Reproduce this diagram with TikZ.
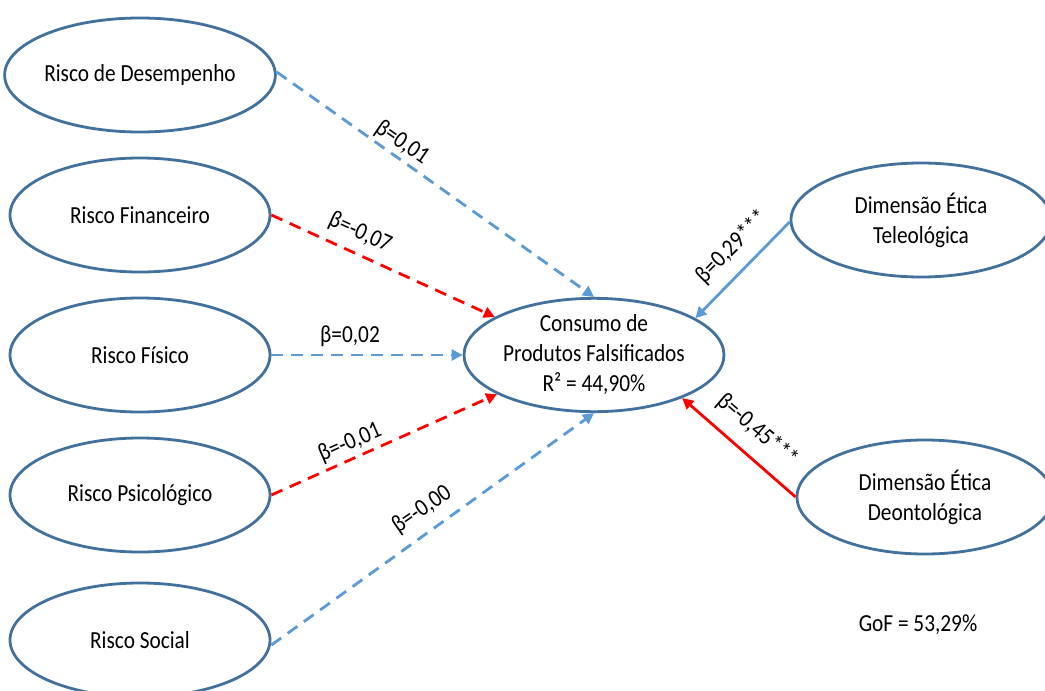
\documentclass[tikz,border=0pt]{standalone}
\usepackage{fontspec}
\setmainfont{Carlito}[FakeStretch=0.87]
\usetikzlibrary{shapes.geometric,arrows.meta}
\definecolor{ellblue}{RGB}{65,113,156}
\definecolor{arrblue}{RGB}{91,155,213}
\definecolor{arrred}{RGB}{255,0,0}
\tikzset{
  latent/.style={ellipse, draw=ellblue, line width=2.8pt, minimum width=260pt, minimum height=114pt, inner sep=0pt, align=center, font=\fontsize{24.5}{30}\selectfont},
  lbl/.style={font=\fontsize{24.5}{28}\selectfont, inner sep=1pt},
  conn/.style={line width=2.8pt, -{Triangle[length=11pt,width=11pt]}},
  dashconn/.style={conn, dash pattern=on 12pt off 8pt},
}
\begin{document}
\begin{tikzpicture}[x=1pt,y=-1pt]
\useasboundingbox (0,0) rectangle (1045,691);
\clip (0,0) rectangle (1045,691);
\fill[white] (0,0) rectangle (1045,691);
\node[latent] (d) at (140,75) {Risco de Desempenho};
\node[latent] (f) at (140,215) {Risco Financeiro};
\node[latent] (fi) at (140,355) {Risco Físico};
\node[latent] (p) at (140,495) {Risco Psicológico};
\node[latent] (s) at (140,640) {Risco Social};
\node[latent, minimum height=104pt] (c) at (594,355) {Consumo de\\Produtos Falsificados\\R² = 44,90\%};
\node[latent] (t) at (921,220) {Dimensão Ética\\Teleológica};
\node[latent, minimum width=256pt] (o) at (925,497) {Dimensão Ética\\Deontológica};
\node[lbl] (gof) at (918,625) {GoF = 53,29\%};

\draw[dashconn, arrblue] ([yshift=3pt]d.east) -- (c.90);
\draw[dashconn, arrred] (f.east) -- (c.159);
\draw[dashconn, arrblue] (fi.east) -- (c.180);
\draw[dashconn, arrred] (p.east) -- (c.202);
\draw[dashconn, arrblue] ([yshift=-5pt]s.east) -- (c.270);
\draw[conn, arrblue] ([yshift=-2pt]t.west) -- (c.20);
\draw[conn, arrred] (o.west) -- (c.-26);

\node[lbl, rotate=-34.7] (l1) at (402,143) {β=0,01};
\node[lbl, rotate=-24.5] (l2) at (360,233) {β=-0,07};
\node[lbl] (l3) at (350,336) {β=0,02};
\node[lbl, rotate=23.5] (l4) at (350,443) {β=-0,01};
\node[lbl, rotate=34.7] (l5) at (422,510) {β=-0,00};
\node[lbl, rotate=45] (l6) at (732,247) {β=0,29***};
\node[lbl, rotate=-40.6] (l7) at (757,430) {β=-0,45***};
\end{tikzpicture}
\end{document}
